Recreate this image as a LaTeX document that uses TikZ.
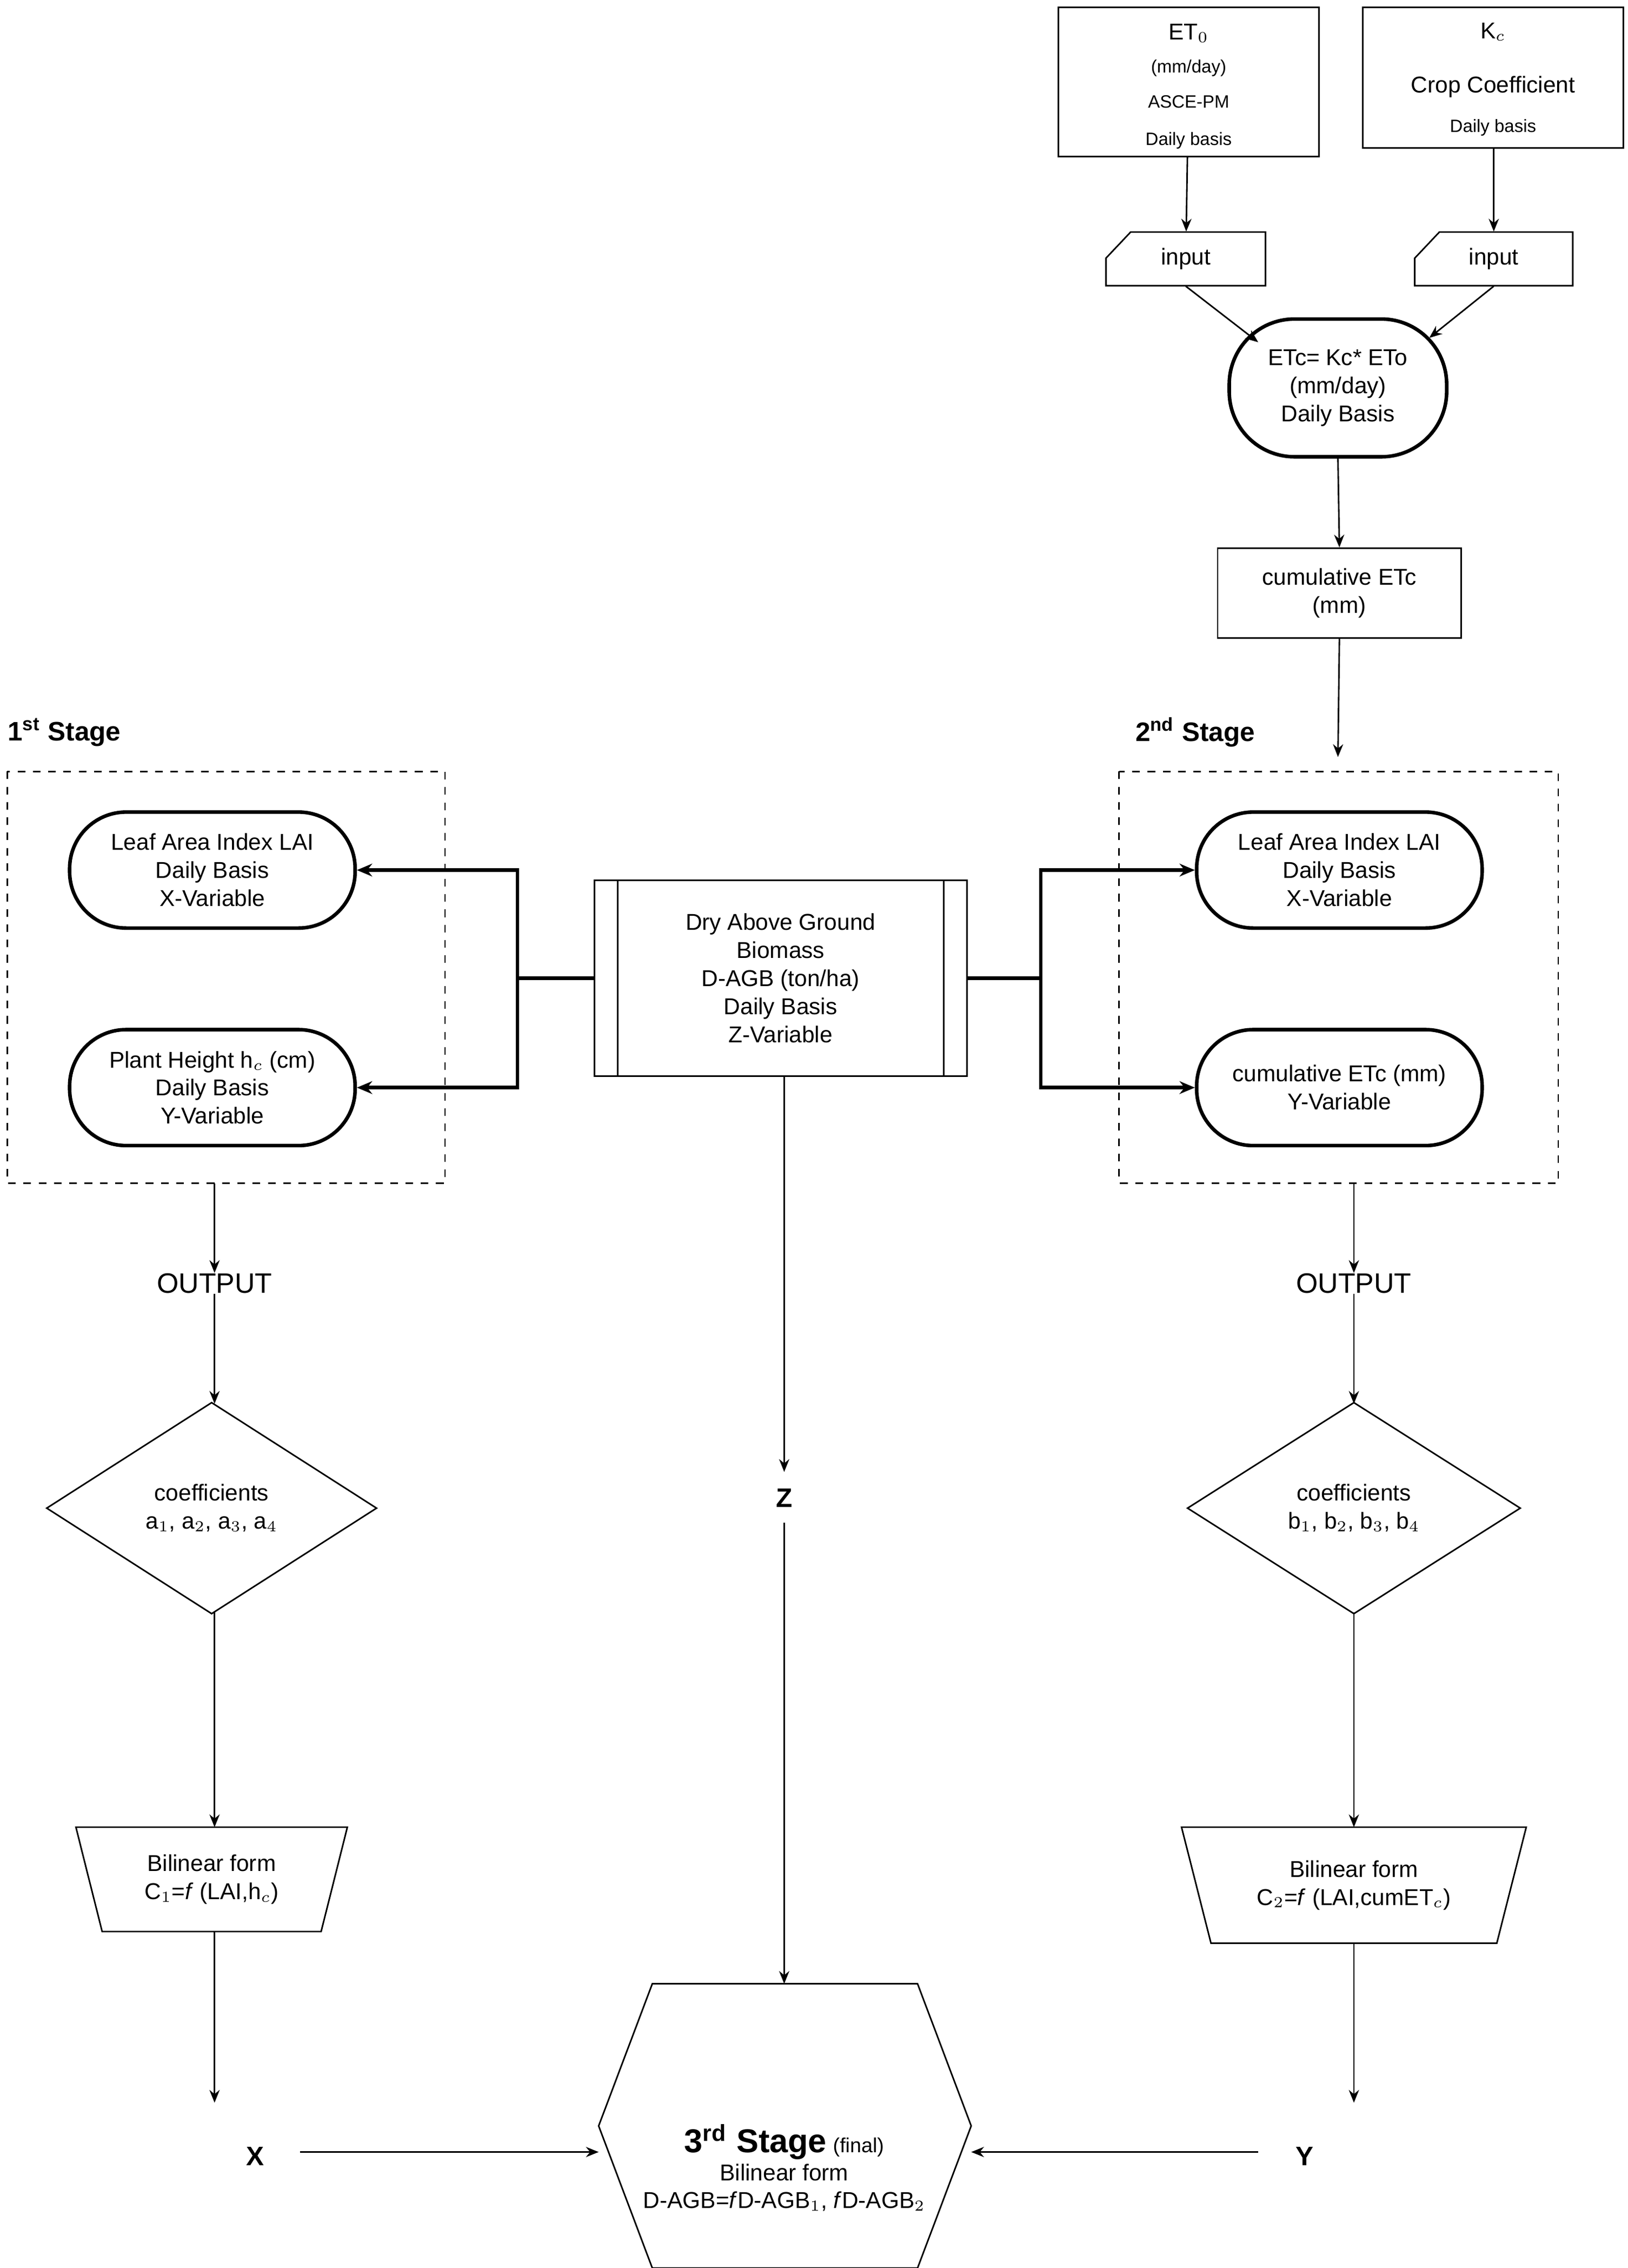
\documentclass[tikz,border=0pt]{standalone}
\usepackage{fontspec}
\setmainfont{Liberation Sans}
\usetikzlibrary{shapes.geometric,arrows.meta}
\begin{document}
\begin{tikzpicture}[x=0.02cm,y=-0.02cm,
 every node/.style={font=\fontsize{9}{11}\selectfont,align=center,inner sep=0pt},
 thin/.style={line width=0.6pt},
 thk/.style={line width=1.4pt},
 arr/.style={thin,-{Stealth[length=5pt,width=4pt]}},
 tarr/.style={thk,-{Stealth[length=6pt,width=5pt]}},
 box/.style={draw,thin,rectangle},
 stad/.style={draw,thk,rounded corners=0.78cm,minimum width=3.94cm,minimum height=1.6cm},
 sm/.style={font=\fontsize{7}{9}\selectfont},
 lbl/.style={font=\fontsize{10.5}{12}\selectfont\bfseries}]
\useasboundingbox (0,0) rectangle (1123,1564);
% top boxes
\node[box,minimum width=3.6cm,minimum height=2.06cm] (et0) at (820,56.5) {};
\node at (820,23) {ET$_0$};
\node[sm] at (820,47) {(mm/day)};
\node[sm] at (820,70) {ASCE-PM};
\node[sm] at (820,97) {Daily basis};
\node[box,minimum width=3.6cm,minimum height=1.94cm] (kc) at (1030,53.5) {};
\node at (1030,22) {K$_c$};
\node at (1030,60) {Crop Coefficient};
\node[sm] at (1030,88) {Daily basis};
% inputs
\node[minimum width=2.2cm,minimum height=0.74cm] (in1) at (818,178.5) {input};
\draw[thin] (763,178) -- (780,160) -- (873,160) -- (873,197) -- (763,197) -- cycle;
\node[minimum width=2.18cm,minimum height=0.74cm] (in2) at (1030.5,178.5) {input};
\draw[thin] (976,178) -- (993,160) -- (1085,160) -- (1085,197) -- (976,197) -- cycle;
\draw[arr] (et0) -- (in1);
\draw[arr] (kc.south -| in2) -- (in2);
\node[stad,minimum width=3cm,minimum height=1.9cm,rounded corners=0.9cm] (etc) at (923,267.5) {ETc= Kc* ETo\\(mm/day)\\Daily Basis};
\draw[arr] (in1.south) -- (868,236);
\draw[arr] (in2.south) -- (986,233);
\node[box,minimum width=3.36cm,minimum height=1.24cm] (cum) at (924,409) {cumulative ETc\\(mm)};
\draw[arr] (etc.south) -- (cum.north);
\coordinate (c2) at (923,522);
\draw[arr] (cum.south) -- (c2);
% stages
\node[lbl,anchor=west] at (5,505) {1\textsuperscript{st} Stage};
\node[lbl,anchor=west] at (783,505) {2\textsuperscript{nd} Stage};
\draw[thin,dashed] (5,532) rectangle (307,816);
\draw[thin,dashed] (772,532) rectangle (1075,816);
\node[stad] (lai1) at (146.5,600) {Leaf Area Index LAI\\Daily Basis\\X-Variable};
\node[stad] (ph) at (146.5,750) {Plant Height h$_c$ (cm)\\Daily Basis\\Y-Variable};
\node[stad] (lai2) at (924,600) {Leaf Area Index LAI\\Daily Basis\\X-Variable};
\node[stad] (ce) at (924,750) {cumulative ETc (mm)\\Y-Variable};
% center
\node[box,minimum width=5.14cm,minimum height=2.7cm] (dagb) at (538.5,674.5) {Dry Above Ground\\Biomass\\D-AGB (ton/ha)\\Daily Basis\\Z-Variable};
\draw[thin] (426,607) -- (426,742) (651,607) -- (651,742);
\draw[thk] (dagb.west) -- (357,674.5);
\draw[tarr] (357,674.5) |- (lai1.east);
\draw[tarr] (357,674.5) |- (ph.east);
\draw[thk] (dagb.east) -- (718,674.5);
\draw[tarr] (718,674.5) |- (lai2.west);
\draw[tarr] (718,674.5) |- (ce.west);
% left column
\node[font=\fontsize{11}{13}\selectfont] (o1) at (148,885) {OUTPUT};
\draw[arr] (148,816) -- (o1.north);
\node[diamond,draw,thin,minimum width=4.56cm,minimum height=2.92cm,aspect=1.56] (d1) at (146,1040) {};
\node at (146,1040) {coefficients\\a$_1$, a$_2$, a$_3$, a$_4$};
\draw[arr] (o1.south) -- (148,968);
\node[trapezium,draw,thin,shape border rotate=180,trapezium left angle=72,trapezium right angle=72,minimum width=3.76cm,minimum height=1.44cm,trapezium stretches=true] (t1) at (146,1296) {Bilinear form\\C$_1$=\textit{f} (LAI,h$_c$)};
\draw[arr] (148,1112) -- (148,1260);
\node[lbl] (X) at (176,1487) {X};
\draw[arr] (148,1332) -- (148,1450);
% right column
\node[font=\fontsize{11}{13}\selectfont] (o2) at (934,885) {OUTPUT};
\draw[arr] (934,816) -- (o2.north);
\node[diamond,draw,thin,minimum width=4.6cm,minimum height=2.92cm,aspect=1.56] (d2) at (934,1040) {};
\node at (934,1040) {coefficients\\b$_1$, b$_2$, b$_3$, b$_4$};
\draw[arr] (o2.south) -- (934,968);
\node[trapezium,draw,thin,shape border rotate=180,trapezium left angle=68,trapezium right angle=68,minimum width=4.76cm,minimum height=1.6cm,trapezium stretches=true] (t2) at (934,1300) {Bilinear form\\C$_2$=\textit{f} (LAI,cumET$_c$)};
\draw[arr] (934,1112) -- (934,1260);
\node[lbl] (Y) at (900,1487) {Y};
\draw[arr] (934,1340) -- (934,1450);
% center column
\node[lbl] (Z) at (541,1033) {Z};
\draw[arr] (541,742) -- (541,1015);
\node[minimum width=5.14cm,minimum height=3.9cm] (hex) at (541.5,1466) {};
\draw[thin] (413,1466) -- (450,1368) -- (633,1368) -- (670,1466) -- (633,1564) -- (450,1564) -- cycle;
\node at (541,1495) {{\fontsize{13}{15}\selectfont\bfseries 3\textsuperscript{rd} Stage} {\fontsize{8}{10}\selectfont (final)}\\Bilinear form\\D-AGB=\textit{f}D-AGB$_1$, \textit{f}D-AGB$_2$};
\draw[arr] (541,1050) -- (541,1368);
\draw[arr] (207,1484) -- (413,1484);
\draw[arr] (868,1484) -- (670,1484);
\end{tikzpicture}
\end{document}
